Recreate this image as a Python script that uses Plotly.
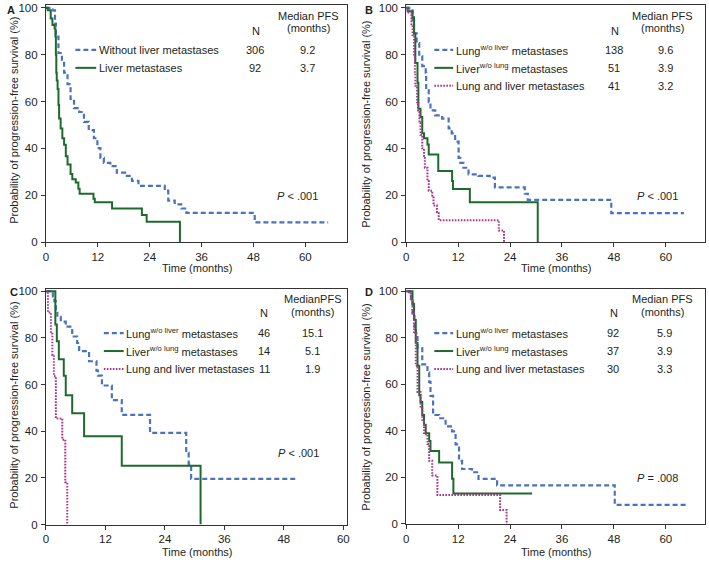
import plotly.graph_objects as go

# ---------------- data ----------------
# Panel A
a_wo_liver_t = [0, 0.8, 1.5, 2.1, 2.3, 2.9, 3.7, 4.2, 5.0, 5.7, 6.5, 7.7, 8.8, 9.9, 11.1, 11.9, 12.6, 13.4, 14.9, 16.4, 18.3, 19.9, 21.4, 27.5, 28.3, 29.8, 31.3, 32.5, 48.3, 65.3]
a_wo_liver_s = [100, 99.3, 98.9, 93.3, 87.7, 80.7, 76.5, 72.3, 67.4, 61.1, 57.2, 55.5, 51.3, 47.8, 44.3, 40.1, 35.9, 33.8, 32.4, 29.6, 28.2, 26.1, 24.0, 21.9, 17.7, 16.1, 14.3, 12.4, 8.4, 8.4]
a_liver_t = [0, 0.4, 1.1, 1.5, 2.0, 2.2, 2.3, 2.4, 2.5, 2.7, 2.9, 3.05, 3.4, 3.8, 4.2, 4.6, 5.0, 5.7, 6.1, 6.9, 7.5, 7.8, 11.0, 11.3, 15.3, 22.2, 23.3, 31.0]
a_liver_s = [100, 98.9, 95.4, 92.6, 91.2, 87.7, 80.0, 72.3, 69.0, 65.3, 58.5, 52.7, 48.5, 44.3, 41.5, 36.6, 33.1, 29.0, 26.8, 25.4, 22.7, 20.6, 18.5, 17.0, 14.3, 11.5, 8.6, 0]

# Panel B
b_lung_t = [0, 0.7, 1.45, 1.8, 2.4, 3.0, 3.7, 4.5, 4.6, 5.2, 5.6, 6.7, 8.3, 9.8, 10.5, 11.3, 12.1, 12.5, 13.2, 14.4, 16.7, 19.3, 20.5, 27.4, 28.1, 47.4, 64.2]
b_lung_s = [100, 98.9, 94.7, 89.1, 84.9, 79.3, 75.1, 72.3, 65.3, 59.7, 56.2, 54.1, 52.7, 48.5, 46.4, 42.9, 35.9, 33.8, 31.7, 28.9, 28.2, 27.5, 23.3, 20.6, 18.0, 12.3, 12.3]
b_liver_t = [0, 0.3, 1.45, 1.8, 2.1, 2.6, 2.8, 3.3, 3.7, 4.1, 4.9, 5.2, 7.4, 10.6, 10.8, 14.7, 30.4]
b_liver_s = [100, 98.5, 96.0, 89.0, 76.4, 68.0, 56.9, 53.4, 46.4, 44.3, 41.6, 37.4, 30.3, 26.1, 22.6, 17.0, 0]
b_both_t = [0, 0.3, 1.2, 1.45, 1.8, 2.0, 2.1, 2.5, 2.75, 3.05, 3.3, 3.7, 4.1, 4.3, 4.9, 5.2, 6.0, 6.3, 7.1, 7.5, 21.4, 22.6]
b_both_s = [100, 98, 93, 87.7, 79, 72, 66.7, 59.7, 55.5, 51, 45.8, 40, 35.9, 31.7, 26, 21.9, 19, 15.6, 12.8, 9.3, 4.9, 0]

# Panel C
c_lung_t = [0, 1.4, 1.7, 2.0, 2.3, 3.0, 4.0, 5.3, 6.3, 6.7, 8.7, 10.2, 10.5, 11.3, 13.3, 15.3, 21.0, 28.3, 28.8, 29.3, 50.3]
c_lung_s = [100, 97.8, 95.7, 91.3, 89.0, 87.0, 84.8, 80.6, 77.8, 74.3, 70.0, 66.0, 63.8, 59.6, 53.3, 47.0, 39.3, 30.8, 26.0, 19.6, 19.6]
c_liver_t = [0, 1.9, 2.2, 2.6, 3.6, 4.0, 5.3, 7.7, 15.3, 31.2]
c_liver_s = [100, 85.7, 78.6, 70.8, 63.8, 55.4, 47.7, 37.9, 25.2, 0]
c_both_t = [0, 0.4, 1.0, 1.3, 1.6, 2.0, 3.3, 3.9, 4.3]
c_both_s = [100, 90.9, 81.8, 72.7, 63.6, 45.5, 36.4, 18.2, 0]

# Panel D
d_lung_t = [0, 0.8, 1.1, 1.45, 1.9, 2.2, 2.6, 3.7, 4.9, 5.3, 5.6, 6.2, 7.6, 9.1, 10.6, 11.4, 12.2, 12.9, 15.2, 16.7, 21.0, 48.2, 65.0]
d_lung_s = [100, 99.6, 96.8, 90.4, 84.0, 82.0, 75.6, 68.6, 65.0, 61.0, 55.0, 46.8, 45.4, 41.9, 39.8, 34.2, 27.1, 23.6, 22.2, 19.4, 16.6, 8.2, 8.2]
d_liver_t = [0, 1.45, 1.8, 2.2, 2.6, 3.0, 3.3, 3.7, 4.1, 4.5, 5.3, 5.6, 7.6, 10.6, 10.9, 29.1]
d_liver_s = [100, 94.6, 87.6, 77.8, 68.0, 55.3, 52.4, 46.8, 42.6, 39.0, 35.6, 31.3, 26.4, 19.4, 13.1, 13.1]
d_both_t = [0, 0.3, 1.06, 1.45, 1.8, 2.2, 2.6, 3.3, 3.7, 4.1, 4.9, 5.3, 6.0, 7.2, 21.7, 23.2]
d_both_s = [100, 99.5, 96, 90.4, 82, 68, 56.7, 49.6, 44, 38.5, 34.3, 27.1, 20.8, 12.4, 6.0, 0]

# Legend table text
a_labels = ["Without liver metastases", "Liver metastases"]
a_n = ["306", "92"]
a_med = ["9.2", "3.7"]
b_labels = ["Lung<sup>w/o liver</sup> metastases", "Liver<sup>w/o lung</sup> metastases", "Lung and liver metastases"]
b_n = ["138", "51", "41"]
b_med = ["9.6", "3.9", "3.2"]
c_n = ["46", "14", "11"]
c_med = ["15.1", "5.1", "1.9"]
d_n = ["92", "37", "30"]
d_med = ["5.9", "3.9", "3.3"]
p_values = ["<i>P</i> < .001", "<i>P</i> < .001", "<i>P</i> < .001", "<i>P</i> = .008"]
x_ticks = [0, 12, 24, 36, 48, 60]
y_ticks = [0, 20, 40, 60, 80, 100]

# ---------------- style ----------------
W, H = 709, 565
FONT = "Liberation Sans, Arial, Helvetica, sans-serif"
TXT = "#231f20"
BLUE = "#4a72c0"
GREEN = "#1e6a2c"
MAG = "#a8358f"
STY = {
    "blue": dict(color=BLUE, width=2.2, dash="5px,3px"),
    "green": dict(color=GREEN, width=2.0),
    "mag": dict(color=MAG, width=2.0, dash="1.6px,1.4px"),
}

def px(x):
    return x / W

def py(y):
    return 1 - y / H

fig = go.Figure()

panels = [
    ("", (43.3, 346.7), (1.0, 242.3), 69.6, 101.2,
     [(a_wo_liver_t, a_wo_liver_s, "blue"), (a_liver_t, a_liver_s, "green")]),
    ("2", (406.7, 707.7), (1.0, 242.3), 69.0, 101.2,
     [(b_lung_t, b_lung_s, "blue"), (b_liver_t, b_liver_s, "green"), (b_both_t, b_both_s, "mag")]),
    ("3", (43.3, 346.7), (290.0, 530.0), 60.7, 101.0,
     [(c_lung_t, c_lung_s, "blue"), (c_liver_t, c_liver_s, "green"), (c_both_t, c_both_s, "mag")]),
    ("4", (406.7, 707.7), (290.0, 529.3), 69.0, 101.0,
     [(d_lung_t, d_lung_s, "blue"), (d_liver_t, d_liver_s, "green"), (d_both_t, d_both_s, "mag")]),
]

axis_common = dict(showline=True, linecolor="#333", linewidth=1, mirror=True,
                   ticks="outside", ticklen=4, tickcolor="#333", tickwidth=1,
                   showgrid=False, zeroline=False,
                   tickfont=dict(family=FONT, size=11.5, color=TXT))

layout = dict(width=W, height=H, margin=dict(l=0, r=0, t=0, b=0),
              paper_bgcolor="white", plot_bgcolor="white", showlegend=False,
              font=dict(family=FONT, size=11, color=TXT))

for suf, (x0, x1), (yt, yb), xmax, ymax, series in panels:
    for t, s, key in series:
        fig.add_trace(go.Scatter(x=t, y=s, mode="lines", line=dict(shape="hv", **STY[key]),
                                 xaxis="x" + suf, yaxis="y" + suf, hoverinfo="skip"))
    layout["xaxis" + suf] = dict(domain=[px(x0), px(x1)], range=[0, xmax], tickvals=x_ticks,
                                 anchor="y" + suf, ticklabelstandoff=0, **axis_common)
    layout["yaxis" + suf] = dict(domain=[py(yb), py(yt)], range=[0, ymax], tickvals=y_ticks,
                                 anchor="x" + suf, ticklabelstandoff=1, **axis_common)

fig.update_layout(**layout)

ann = []
shapes = []

def text(x, y, s, xanchor="center", size=11, **kw):
    ann.append(dict(x=px(x), y=py(y), xref="paper", yref="paper", text=s, showarrow=False,
                    xanchor=xanchor, yanchor="middle", font=dict(family=FONT, size=size, color=TXT), **kw))

def sample(x0, x1, y, key):
    st = STY[key]
    shapes.append(dict(type="line", xref="paper", yref="paper", x0=px(x0), x1=px(x1), y0=py(y), y1=py(y),
                       line=dict(color=st["color"], width=st["width"], dash=st.get("dash", "solid"))))

# panel letters
text(8, 6, "<b>A</b>", size=11)
text(369, 6, "<b>B</b>", size=11)
text(11, 293, "<b>C</b>", size=11)
text(369, 293, "<b>D</b>", size=11)

# axis titles
for cx, cy in [(195.7, 268.5), (558.3, 268.5), (195.7, 558.0), (558.3, 557.5)]:
    text(cx, cy, "Time (months)", size=11)
for cx, cy in [(11, 118), (366, 122), (11, 408), (366, 410)]:
    text(cx, cy, "Probability of progression-free survival (%)", size=11, textangle=-90)

# Panel A legend table
text(308, 12.3, "Median PFS")
text(308, 24.8, "(months)")
text(255, 27.5, "N")
keysA = ["blue", "green"]
for i, yy in enumerate([46.7, 65.0]):
    sample(73, 94, yy, keysA[i])
    text(94.5, yy, a_labels[i], xanchor="left")
    text(254, yy, a_n[i])
    text(306.7, yy, a_med[i])
text(297, 195, p_values[0])

# Panel B legend table
keys3 = ["blue", "green", "mag"]
text(665, 12.3, "Median PFS")
text(665, 24.8, "(months)")
text(617, 27.5, "N")
for i, yy in enumerate([46.7, 65.0, 83.3]):
    sample(435, 454, yy, keys3[i])
    text(454.5, yy, b_labels[i], xanchor="left")
    text(616.7, yy, b_n[i])
    text(668, yy, b_med[i])
text(660, 195, p_values[1])

# Panel C legend table
text(311.7, 300, "MedianPFS")
text(311.7, 313.3, "(months)")
text(263.3, 315, "N")
for i, yy in enumerate([335, 353.3, 371.7]):
    sample(101.7, 121.7, yy, keys3[i])
    text(122, yy, b_labels[i], xanchor="left")
    text(263.3, yy, c_n[i])
    text(311.7, yy, c_med[i])
text(298.3, 456.7, p_values[2])

# Panel D legend table
text(665, 300, "Median PFS")
text(665, 313.3, "(months)")
text(616.7, 315, "N")
for i, yy in enumerate([335, 353.3, 371.7]):
    sample(435, 454, yy, keys3[i])
    text(454.5, yy, b_labels[i], xanchor="left")
    text(615.5, yy, d_n[i])
    text(666.7, yy, d_med[i])
text(660, 482.3, p_values[3])

fig.update_layout(annotations=ann, shapes=shapes)
fig.write_html("out.html", config={"displayModeBar": False},
               post_script="document.body.style.margin='0';document.body.style.overflow='hidden';")
